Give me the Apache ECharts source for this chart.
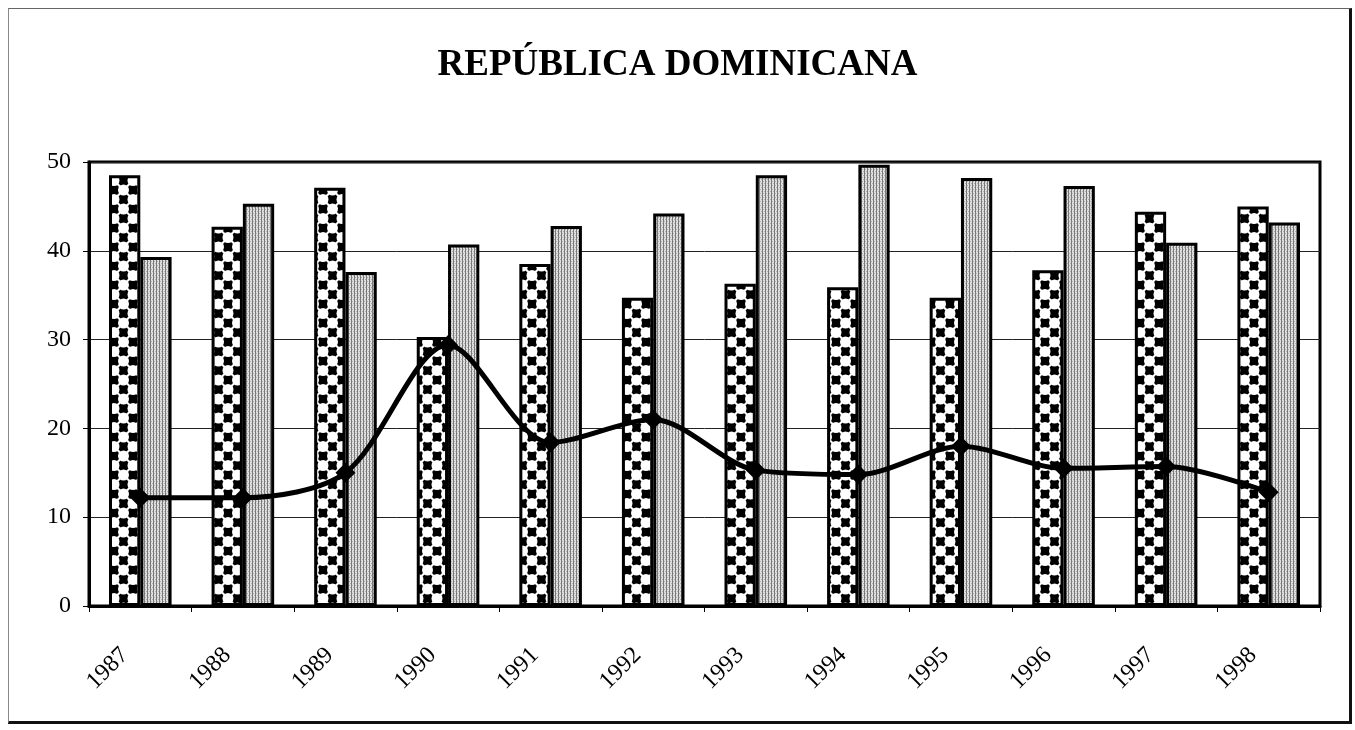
<!DOCTYPE html>
<html>
<head>
<meta charset="utf-8">
<script src="https://cdn.jsdelivr.net/npm/echarts@6/dist/echarts.min.js"></script>
<style>
  html, body { margin: 0; padding: 0; background: #fff; }
  #frame {
    position: absolute; left: 8px; top: 8px; width: 1340px; height: 712px;
    border-left: 1px solid #888; border-top: 1px solid #666;
    border-right: 3px solid #111; border-bottom: 3px solid #111;
  }
  #chart { position: absolute; left: 0; top: 0; width: 1355px; height: 730px; }
</style>
</head>
<body>
<div id="frame"></div>
<div id="chart"></div>
<script>
const years = ["1987", "1988", "1989", "1990", "1991", "1992", "1993", "1994", "1995", "1996", "1997", "1998"];
const patternedBars = [48.5, 42.7, 47.1, 30.3, 38.5, 34.7, 36.3, 35.9, 34.7, 37.8, 44.4, 45.0];
const stripedBars = [39.3, 45.3, 37.6, 40.7, 42.8, 44.2, 48.5, 49.7, 48.2, 47.3, 40.9, 43.2];
const lineValues = [12.2, 12.2, 15.0, 29.4, 18.4, 21.0, 15.3, 14.8, 18.0, 15.5, 15.7, 12.8];
const yTicks = [0, 10, 20, 30, 40, 50];

// black diamonds with white circles
function diamondPattern() {
  const s = 19, h = s / 2;
  const c = document.createElement("canvas");
  c.width = s; c.height = s;
  const ctx = c.getContext("2d");
  ctx.fillStyle = "#fff";
  ctx.fillRect(0, 0, s, s);
  ctx.fillStyle = "#000";
  [[0, 0], [s, 0], [0, s], [s, s], [h, h]].forEach(([x, y]) => {
    ctx.beginPath();
    ctx.moveTo(x, y - 8); ctx.lineTo(x + 8, y); ctx.lineTo(x, y + 8); ctx.lineTo(x - 8, y);
    ctx.closePath(); ctx.fill();
  });
  ctx.fillStyle = "#fff";
  [[h, 0], [0, h], [s, h], [h, s]].forEach(([x, y]) => {
    ctx.beginPath(); ctx.arc(x, y, 5.5, 0, Math.PI * 2); ctx.fill();
  });
  return c;
}

// fine vertical gray stripes
function stripePattern() {
  const c = document.createElement("canvas");
  c.width = 3; c.height = 4;
  const ctx = c.getContext("2d");
  ctx.fillStyle = "#e0e0e0";
  ctx.fillRect(0, 0, 3, 4);
  ctx.fillStyle = "#7a7a7a";
  ctx.fillRect(0, 0, 1, 4);
  ctx.fillStyle = "#b0b0b0";
  ctx.fillRect(1, 1, 1, 1);
  ctx.fillRect(2, 3, 1, 1);
  return c;
}

const chart = echarts.init(document.getElementById("chart"));
const serif = "'Liberation Serif', 'DejaVu Serif', serif";

chart.setOption({
  animation: false,
  title: {
    text: "REPÚBLICA DOMINICANA",
    left: "center",
    top: 42,
    textStyle: { fontFamily: serif, fontSize: 37, fontWeight: "bold", color: "#000" },
  },
  grid: {
    left: 89, right: 35, top: 162, bottom: 124,
    show: true, borderColor: "#000", borderWidth: 3, backgroundColor: "transparent",
  },
  xAxis: {
    type: "category",
    data: years,
    axisLine: { lineStyle: { color: "#000", width: 3 } },
    axisTick: { show: true, length: 6, lineStyle: { color: "#000", width: 1 } },
    axisLabel: {
      rotate: 45, margin: 30, padding: [0, 22, 0, 0],
      fontFamily: serif, fontSize: 24, color: "#000",
    },
  },
  yAxis: {
    type: "value",
    min: yTicks[0],
    max: yTicks[yTicks.length - 1],
    interval: 10,
    axisLine: { show: true, lineStyle: { color: "#000", width: 3 } },
    axisTick: { show: true, length: 6, lineStyle: { color: "#000", width: 1 } },
    axisLabel: { margin: 18, fontFamily: serif, fontSize: 24, color: "#000" },
    splitLine: { lineStyle: { color: "#222", width: 1 } },
  },
  series: [
    {
      name: "Serie 1",
      type: "bar",
      data: patternedBars,
      barGap: "0%",
      barCategoryGap: "39%",
      itemStyle: {
        color: { image: diamondPattern(), repeat: "repeat" },
        borderColor: "#000",
        borderWidth: 3,
      },
      z: 2,
    },
    {
      name: "Serie 2",
      type: "bar",
      data: stripedBars,
      itemStyle: {
        color: { image: stripePattern(), repeat: "repeat" },
        borderColor: "#000",
        borderWidth: 3,
      },
      z: 2,
    },
    {
      name: "Serie 3",
      type: "line",
      data: lineValues,
      smooth: 0.3,
      symbol: "diamond",
      symbolSize: 20,
      lineStyle: { color: "#000", width: 5 },
      itemStyle: { color: "#000" },
      z: 5,
    },
  ],
});
</script>
</body>
</html>
